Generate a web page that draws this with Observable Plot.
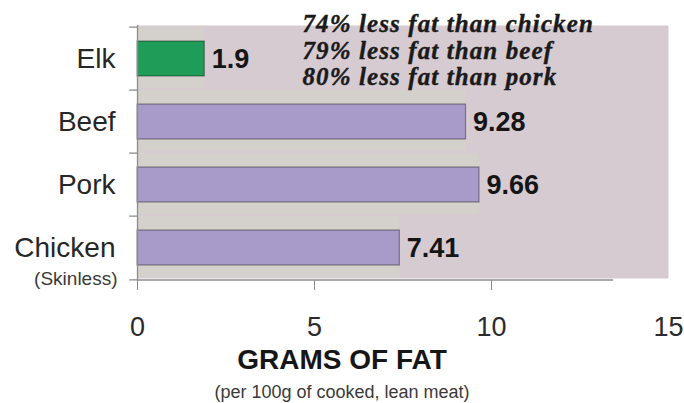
<!DOCTYPE html>
<html>
<head>
<meta charset="utf-8">
<script src="https://cdn.jsdelivr.net/npm/d3@7"></script>
<script src="https://cdn.jsdelivr.net/npm/@observablehq/plot@0.6"></script>
<style>
  html, body { margin: 0; padding: 0; background: #ffffff; }
</style>
</head>
<body>
<div id="chart"></div>
<script>
// ---- data ----
const categories = ["Elk", "Beef", "Pork", "Chicken"];
const fatGrams = [1.9, 9.28, 9.66, 7.41];
const subLabels = [{cat: "Chicken", note: "(Skinless)"}];
const xTicks = [0, 5, 10, 15];
const xTickMarks = [0, 5, 10];
const notes = ["74% less fat than chicken", "79% less fat than beef", "80% less fat than pork"];
const xLabel = "GRAMS OF FAT";
const xSubLabel = "(per 100g of cooked, lean meat)";
const floorEnd = 13.45;

// ---- styles ----
const barPalette = ["#1f9c58", "#a99bc9", "#a99bc9", "#a99bc9"];
const rows = categories.map((c, i) => ({cat: c, fat: fatGrams[i]}));

const H = 403, W = 684;
const mT = 25, mB = 123;
const step = (H - mT - mB) / categories.length;

const chart = Plot.plot({
  width: W,
  height: H,
  marginLeft: 137,
  marginRight: 16,
  marginTop: mT,
  marginBottom: mB,
  style: {fontFamily: "'Liberation Sans', Arial, sans-serif", fontSize: "27px", background: "#ffffff", overflow: "visible"},
  x: {domain: [0, 15], axis: null},
  y: {domain: categories, axis: null, paddingInner: 0.45, paddingOuter: 0.225},
  color: {domain: categories, range: barPalette},
  marks: [
    Plot.frame({fill: "#d7cbd2", stroke: "none", insetBottom: 2}),
    // 3D floor strips
    Plot.barX(rows, {y: "cat", x: "fat", fill: "#d4d0cc", insetTop: -14, insetBottom: -12}),
    Plot.barX(rows, {y: "cat", x: "fat", fill: "cat", stroke: "#000", strokeOpacity: 0.38, strokeWidth: 1.2}),
    // axes lines
    Plot.ruleX([0], {stroke: "#8c8c8c", strokeWidth: 1.3}),
    Plot.ruleY([categories[categories.length - 1]], {y: d => d, x1: 0, x2: floorEnd, dy: step / 2, stroke: "#8c8c8c", strokeWidth: 1.5}),
    // y boundary ticks
    Plot.ruleY(categories, {y: d => d, x1: -0.22, x2: 0, dy: -step / 2, stroke: "#8c8c8c", strokeWidth: 1.3}),
    Plot.ruleY([categories[categories.length - 1]], {y: d => d, x1: -0.22, x2: 0, dy: step / 2, stroke: "#8c8c8c", strokeWidth: 1.3}),
    // x ticks
    Plot.axisX({ticks: xTickMarks, tickSize: 10, tickFormat: () => "", stroke: "#8c8c8c", label: null}),
    Plot.axisX({ticks: xTicks, tickSize: 0, tickPadding: 36, fontSize: 27, fill: "#2b2b2b", label: null}),
    // category labels
    Plot.text(categories, {y: d => d, x: 0, dx: -22, textAnchor: "end", fontSize: 28, fill: "#262626"}),
    Plot.text(subLabels, {y: "cat", x: 0, text: "note", dx: -20, dy: 31, textAnchor: "end", fontSize: 19, fill: "#3a3a3a"}),
    // value labels
    Plot.text(rows, {y: "cat", x: "fat", text: d => String(d.fat), dx: 7, textAnchor: "start", fontSize: 27, fontWeight: "bold", fill: "#151515"}),
    // annotation
    Plot.text([notes.join("\n")], {frameAnchor: "top-left", dx: 165, dy: -12, lineAnchor: "top", textAnchor: "start",
      fontFamily: "'Liberation Serif', serif", fontStyle: "italic", fontWeight: "bold", fontSize: 25, lineHeight: 1.06,
      fill: "#1a1a1a", stroke: "#1a1a1a", strokeWidth: 0.4}),
    // axis title
    Plot.text([xLabel], {frameAnchor: "bottom", dx: -61, dy: 88, fontSize: 28, fontWeight: "bold", fill: "#161616"}),
    Plot.text([xSubLabel], {frameAnchor: "bottom", dx: -61, dy: 117, fontSize: 18, fill: "#3a3a3a"})
  ]
});
// widen the annotation lettering
d3.select(chart).selectAll("text").filter(function () {
  return this.textContent.includes("less fat");
}).attr("letter-spacing", "1.1px");
document.getElementById("chart").appendChild(chart);
</script>
</body>
</html>
